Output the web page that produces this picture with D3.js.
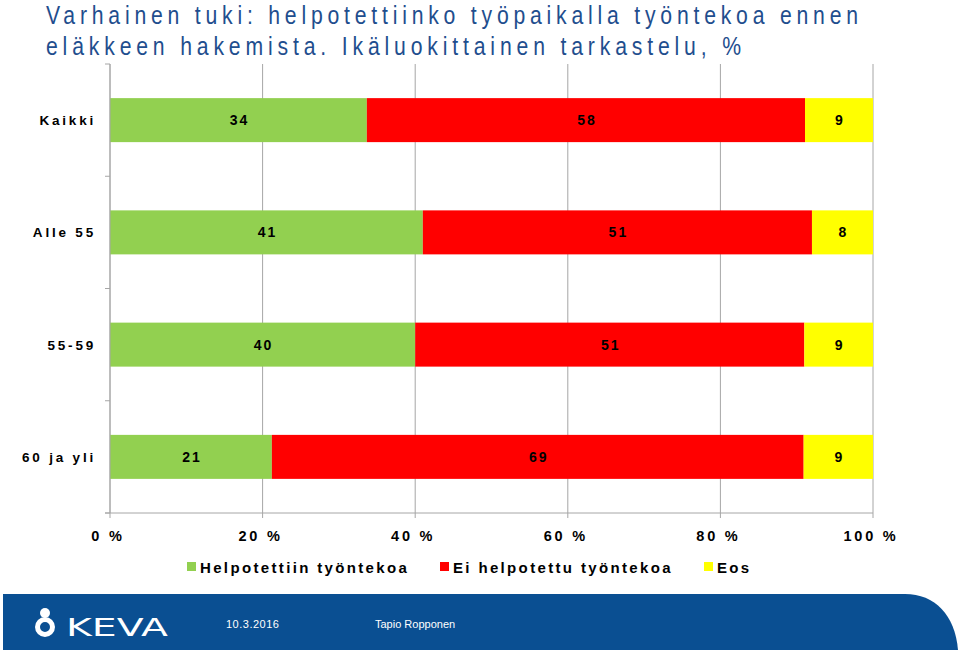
<!DOCTYPE html>
<html><head><meta charset="utf-8">
<script src="https://cdn.jsdelivr.net/npm/d3@7"></script>
<style>
html,body{margin:0;padding:0;background:#fff;}
svg{display:block;}
</style></head>
<body>
<svg id="c" width="960" height="653"></svg>
<script>
const titleLines = ["Varhainen tuki: helpotettiinko työpaikalla työntekoa ennen",
                    "eläkkeen hakemista. Ikäluokittainen tarkastelu, %"];
const titleWidths = [812, 695];
const categories = ["Kaikki", "Alle 55", "55-59", "60 ja yli"];
const seriesNames = ["Helpotettiin työntekoa", "Ei helpotettu työntekoa", "Eos"];
const helpotettiin = [34, 41, 40, 21];
const eiHelpotettu = [58, 51, 51, 69];
const eos = [9, 8, 9, 9];
const colors = ["#92D050", "#FF0000", "#FFFF00"];
const xTicks = [0, 0.2, 0.4, 0.6, 0.8, 1.0];
const xTickLabels = ["0 %", "20 %", "40 %", "60 %", "80 %", "100 %"];
const footerDate = "10.3.2016";
const footerAuthor = "Tapio Ropponen";

(function(){
const svg = d3.select("#c");
const mL = 110, mR = 873, mT = 64, mB = 513;

const rows = categories.map((c, i) => ({cat: c, vals: [helpotettiin[i], eiHelpotettu[i], eos[i]]}));
const table = rows.map(r => {
  const tot = d3.sum(r.vals);
  const o = {cat: r.cat};
  seriesNames.forEach((s, j) => o[s] = r.vals[j] / tot);
  o.raw = r.vals;
  return o;
});
const stack = d3.stack().keys(seriesNames)(table);

const x = d3.scaleLinear().domain([0, 1]).range([mL, mR]);
const y = d3.scaleBand().domain(categories).range([mT, mB]).paddingInner(0).paddingOuter(0);
const barH = 44;

// title (narrow look via horizontal scale)
const sx = 0.8;
const tg = svg.append("g").attr("transform", `translate(46,0) scale(${sx},1)`);
titleLines.forEach((l, i) => {
  tg.append("text").attr("x", 0).attr("y", 24 + i * 31)
    .attr("fill", "#1F4E8E")
    .style("font-family", "'Liberation Sans',Arial,sans-serif")
    .style("font-size", "26.5px")
    .attr("textLength", titleWidths[i] / sx).attr("lengthAdjust", "spacing")
    .text(l);
});

// gridlines
svg.append("g").selectAll("line").data(xTicks).join("line")
  .attr("x1", d => x(d)).attr("x2", d => x(d))
  .attr("y1", mT).attr("y2", mB + 5)
  .attr("stroke", "#A6A6A6").attr("stroke-width", 1);

// bars
const g = svg.append("g");
stack.forEach((layer, j) => {
  g.selectAll(null).data(layer).join("rect")
    .attr("x", d => x(d[0])).attr("width", d => x(d[1]) - x(d[0]))
    .attr("y", d => y(d.data.cat) + (y.bandwidth() - barH) / 2)
    .attr("height", barH).attr("fill", colors[j]);
  g.selectAll(null).data(layer).join("text")
    .attr("x", d => (x(d[0]) + x(d[1])) / 2 + 1)
    .attr("y", d => y(d.data.cat) + y.bandwidth() / 2 + 5)
    .attr("text-anchor", "middle")
    .style("font-family", "'Liberation Sans',Arial,sans-serif")
    .style("font-weight", "bold").style("font-size", "14px")
    .style("letter-spacing", "2px").attr("fill", "#000")
    .text(d => d.data.raw[j]);
});

// y axis
const ya = svg.append("g");
ya.append("line").attr("x1", mL).attr("x2", mL).attr("y1", mT).attr("y2", mB).attr("stroke", "#A6A6A6");
const bounds = categories.map(c => y(c)).concat([mB]);
ya.selectAll(".tk").data(bounds).join("line").attr("class", "tk")
  .attr("x1", mL - 5).attr("x2", mL).attr("y1", d => d).attr("y2", d => d).attr("stroke", "#A6A6A6");
ya.selectAll("text").data(categories).join("text")
  .attr("x", 96).attr("y", d => y(d) + y.bandwidth() / 2 + 5)
  .attr("text-anchor", "end")
  .style("font-family", "'Liberation Sans',Arial,sans-serif")
  .style("font-weight", "bold").style("font-size", "13.5px")
  .style("letter-spacing", "2.8px").attr("fill", "#000")
  .text(d => d);

// x axis
const xa = svg.append("g");
xa.append("line").attr("x1", mL - 5).attr("x2", mR).attr("y1", mB).attr("y2", mB).attr("stroke", "#A6A6A6");
xa.selectAll("text").data(xTicks).join("text")
  .attr("x", d => x(d) - 2).attr("y", 541)
  .attr("text-anchor", "middle")
  .style("font-family", "'Liberation Sans',Arial,sans-serif")
  .style("font-weight", "bold").style("font-size", "14.5px")
  .style("letter-spacing", "2.8px").attr("fill", "#000")
  .text((d, i) => xTickLabels[i]);

// legend
const legX = [187, 440, 704];
const lg = svg.append("g");
seriesNames.forEach((s, j) => {
  lg.append("rect").attr("x", legX[j]).attr("y", 562).attr("width", 9).attr("height", 9).attr("fill", colors[j]);
  lg.append("text").attr("x", legX[j] + 13).attr("y", 573)
    .style("font-family", "'Liberation Sans',Arial,sans-serif")
    .style("font-weight", "bold").style("font-size", "15px")
    .style("letter-spacing", "2.35px").attr("fill", "#000").text(s);
});

// footer
const fb = "#0A4F92";
svg.append("path")
  .attr("d", "M3,594 L905,594 C935,594 955,615 958,650 L3,650 Z")
  .attr("fill", fb);
const logo = svg.append("g").attr("fill", "#fff");
logo.append("circle").attr("cx", 45).attr("cy", 613).attr("r", 5);
logo.append("circle").attr("cx", 45).attr("cy", 627).attr("r", 7.5).attr("fill", "none").attr("stroke", "#fff").attr("stroke-width", 5);
logo.append("text").attr("x", 66).attr("y", 636)
  .style("font-family", "'DejaVu Sans',sans-serif").style("font-size", "25px")
  .attr("textLength", 102).attr("lengthAdjust", "spacingAndGlyphs")
  .text("KEVA");
svg.append("text").attr("x", 226).attr("y", 628).attr("fill", "#fff")
  .style("font-family", "'Liberation Sans',Arial,sans-serif").style("font-size", "11px").style("letter-spacing", "0.5px")
  .text(footerDate);
svg.append("text").attr("x", 375).attr("y", 628).attr("fill", "#fff")
  .style("font-family", "'Liberation Sans',Arial,sans-serif").style("font-size", "11px")
  .text(footerAuthor);
})();
</script>
</body></html>
